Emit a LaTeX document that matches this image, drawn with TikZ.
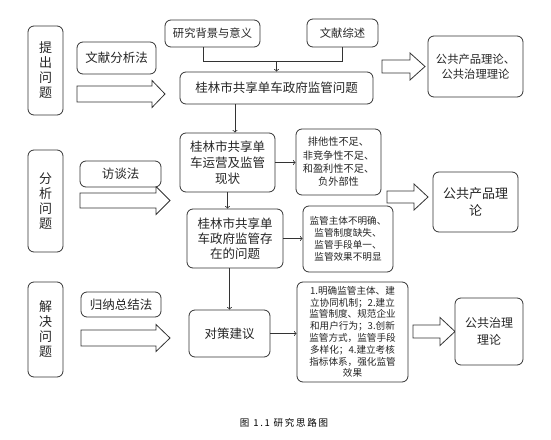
\documentclass[tikz,border=0pt]{standalone}
\usepackage{fontspec}
\setmainfont{Noto Sans CJK SC}
\newfontfamily\capfont[LetterSpace=18]{Noto Sans CJK SC}
\begin{document}
\begin{tikzpicture}[x=1pt,y=-1pt,line width=0.8pt,>=To,
    box/.style={draw=black!80,rounded corners=6pt,fill=white,inner sep=0pt,align=center,text=black!85},
    stagebox/.style={box,minimum width=35pt,font=\fontsize{13}{15}\selectfont},
    bigtext/.style={font=\fontsize{12.5}{16}\selectfont},
    midtext/.style={font=\fontsize{11.3}{15}\selectfont},
    smalltext/.style={font=\fontsize{10.2}{13.3}\selectfont},
    tinytext/.style={font=\fontsize{9.6}{11.8}\selectfont}]
    \useasboundingbox (0,0) rectangle (551,439);
    % hollow arrows
    \foreach \xa/\xb/\xc/\ym/\s/\h in {77/152/165/94/8/13.5, 382/410/425/66.5/6.5/13.5,
        80/156/170/200.5/7.5/14, 387/414/428/197/6/13,
        81/156/170/338/8/13.5, 413/440/455/331.5/6.5/14}
        \draw [black!80] (\xa,\ym-\s) -- (\xb,\ym-\s) -- (\xb,\ym-\h) -- (\xc,\ym)
            -- (\xb,\ym+\h) -- (\xb,\ym+\s) -- (\xa,\ym+\s) -- cycle;
    % stages
    \node [stagebox,minimum height=89pt] (raise) at (45.5,70.5) {提\\出\\问\\题};
    \node [stagebox,minimum height=102pt] (analyse) at (45.5,201) {分\\析\\问\\题};
    \node [stagebox,minimum height=95pt] (solve) at (45.5,329.5) {解\\决\\问\\题};
    % methods
    \node [box,bigtext,minimum width=79pt,minimum height=32pt] (docs) at (116.5,58) {文献分析法};
    \node [box,bigtext,minimum width=81pt,minimum height=26pt] (talk) at (120.5,174) {访谈法};
    \node [box,bigtext,minimum width=80pt,minimum height=25pt] (sum) at (121,304.5) {归纳总结法};
    % main line
    \node [box,midtext,minimum width=95pt,minimum height=27pt] (bg) at (212.5,33.5) {研究背景与意义};
    \node [box,midtext,minimum width=71pt,minimum height=28pt] (review) at (342.5,33) {文献综述};
    \node [box,bigtext,minimum width=193pt,minimum height=32pt] (main) at (276.5,88) {桂林市共享单车政府监管问题};
    \node [box,bigtext,minimum width=95pt,minimum height=59pt] (status) at (227.5,162.5) {桂林市共享单\\车运营及监管\\现状};
    \node [box,bigtext,font=\fontsize{12.5}{15}\selectfont,minimum width=96pt,minimum height=59pt] (issue) at (235,238.5) {桂林市共享单\\车政府监管存\\在的问题};
    \node [box,bigtext,minimum width=81pt,minimum height=47pt] (plan) at (229.5,333.5) {对策建议};
    % findings
    \node [box,smalltext,minimum width=85pt,minimum height=66pt] (lack) at (338.5,162) {排他性不足、\\非竞争性不足、\\和盈利性不足、\\负外部性};
    \node [box,tinytext,minimum width=90pt,minimum height=66pt] (weak) at (348,239) {监管主体不明确、\\监管制度缺失、\\监管手段单一、\\监管效果不明显};
    \node [box,tinytext,minimum width=111pt,minimum height=100pt] (measure) at (352.5,332) {1.明确监管主体、建\\立协同机制；2.建立\\监管制度、规范企业\\和用户行为；3.创新\\监管方式，监管手段\\多样化；4.建立考核\\指标体系，强化监管\\效果};
    % theories
    \node [box,midtext,minimum width=95pt,minimum height=61pt] (theoryA) at (475.5,66.5) {公共产品理论、\\公共治理理论};
    \node [box,bigtext,font=\fontsize{13}{17}\selectfont,minimum width=85pt,minimum height=60pt] (theoryB) at (475.5,202) {公共产品理\\论};
    \node [box,bigtext,font=\fontsize{12}{17}\selectfont,minimum width=68pt,minimum height=67pt] (theoryC) at (489,331.5) {公共治理\\理论};
    % connectors
    \coordinate (join) at (276.5,61);
    \draw [black!80] ([xshift=-9.5pt]bg.south) |- (join);
    \draw [black!80] (review.south) |- (join);
    \draw [->,black!80] (join) -- (main.north);
    \draw [->,black!80] ([xshift=7.5pt]status.north |- main.south) -- ([xshift=7.5pt]status.north);
    \draw [->,black!80] (status.south) -- (status.south |- issue.north);
    \draw [->,black!80] (issue.south -| plan.north) -- (plan.north);
    \draw [->,black!80] (status.east) -- (status.east -| lack.west);
    \draw [->,black!80] (issue.east) -- (issue.east -| weak.west);
    \draw [->,black!80] (plan.east) -- (plan.east -| measure.west);
    % caption
    \node [font=\capfont\fontsize{9.5}{12}\selectfont] (caption) at (284,423) {图 1.1 研究思路图};
\end{tikzpicture}
\end{document}
